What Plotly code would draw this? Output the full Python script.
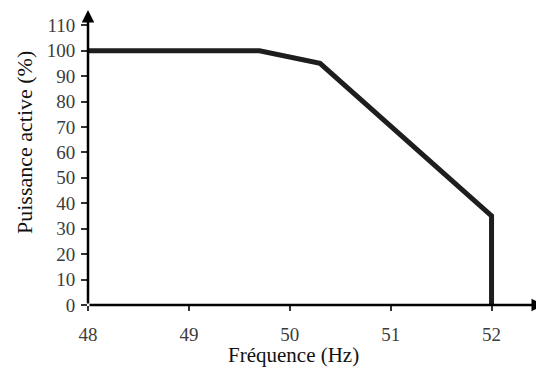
import plotly.graph_objects as go

freq = [48, 49.7, 50.3, 52, 52]
power = [100, 100, 95, 35, 0]
x_ticks = [48, 49, 50, 51, 52]
y_ticks = [0, 10, 20, 30, 40, 50, 60, 70, 80, 90, 100, 110]

# page body has an 8px default margin; compensate so the plot lands where the reference has it
OFF = 8
W, H = 544 - OFF, 369 - OFF
L, T, B = 88 - OFF, 10 - OFF, 64

fig = go.Figure()
fig.add_trace(go.Scatter(x=freq, y=power, mode="lines",
                         line=dict(color="#1e1e1e", width=5), showlegend=False,
                         hoverinfo="skip"))

font = "Times New Roman, Liberation Serif, serif"
tick_col = "#3c3c3c"
fig.update_layout(
    width=W, height=H,
    margin=dict(l=L, r=0, t=T, b=B, autoexpand=False),
    plot_bgcolor="white", paper_bgcolor="white",
    font=dict(family=font, size=19, color=tick_col),
    xaxis=dict(range=[48, 52.52], tickvals=x_ticks, ticktext=[str(v) for v in x_ticks],
               showgrid=False, zeroline=False, showline=False,
               ticks="outside", ticklen=5, tickwidth=1.5, tickcolor="#333",
               ticklabelstandoff=7,
               tickfont=dict(family=font, size=19, color=tick_col)),
    yaxis=dict(range=[0, 116], tickvals=y_ticks, ticktext=[str(v) for v in y_ticks],
               showgrid=False, zeroline=False, showline=False,
               ticks="outside", ticklen=6, tickwidth=1.5, tickcolor="#333",
               ticklabelstandoff=2,
               tickfont=dict(family=font, size=19, color=tick_col)),
)

# axes with arrowheads
fig.add_annotation(x=52.52, y=0, ax=48, ay=0, xref="x", yref="y", axref="x", ayref="y",
                   showarrow=True, arrowhead=2, arrowsize=1, arrowwidth=2.5,
                   arrowcolor="black", text="")
fig.add_annotation(x=48, y=116, ax=48, ay=0, xref="x", yref="y", axref="x", ayref="y",
                   showarrow=True, arrowhead=2, arrowsize=1, arrowwidth=2.5,
                   arrowcolor="black", text="")

pw = W - L
ph = H - T - B
# reference pixel positions (page coords) -> paper coords
def px(xp):
    return (xp - 88) / pw
def py(yp):
    return (305 - yp) / ph

fig.add_annotation(text="Fréquence (Hz)", x=px(293), y=py(355),
                   xref="paper", yref="paper", showarrow=False,
                   xanchor="center", yanchor="middle",
                   font=dict(size=21, color="#111111", family=font))

fig.add_annotation(text="Puissance active (%)", textangle=-90,
                   x=px(24), y=py(143),
                   xref="paper", yref="paper", showarrow=False,
                   xanchor="center", yanchor="middle",
                   font=dict(size=22, color="#111111", family=font))

fig.write_html("out.html")
